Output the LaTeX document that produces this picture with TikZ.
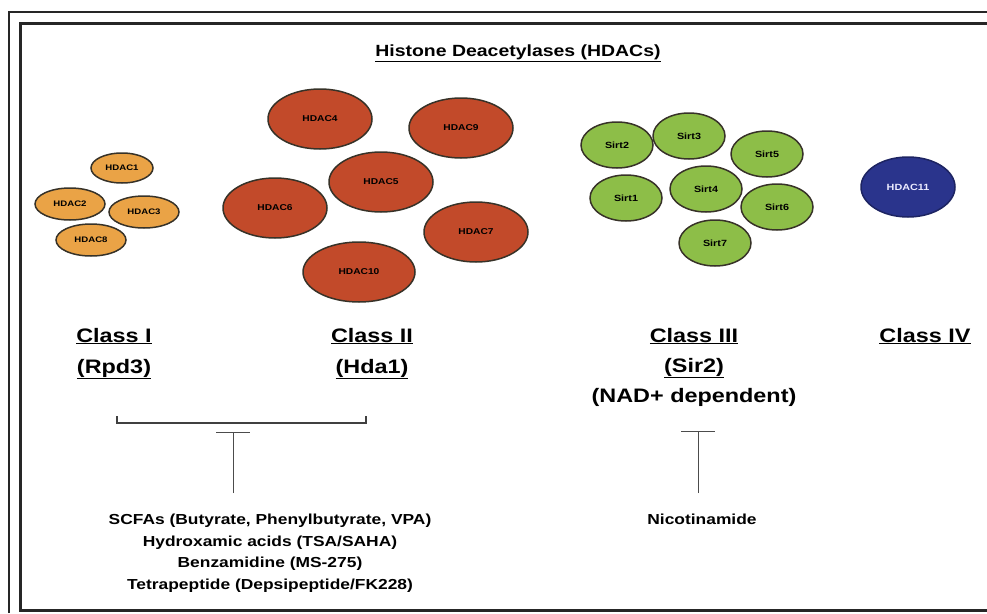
\documentclass[tikz,border=0pt]{standalone}
\usepackage{fontspec}
\setmainfont{Liberation Sans}[FakeStretch=1.2]
\usetikzlibrary{positioning,shapes.geometric,arrows.meta}

\definecolor{classIfill}{RGB}{234,163,70}
\definecolor{classIIfill}{RGB}{194,74,42}
\definecolor{classIIIfill}{RGB}{141,190,72}
\definecolor{classIVfill}{RGB}{42,52,140}
\definecolor{rimcol}{RGB}{55,50,40}

\begin{document}
\begin{tikzpicture}[x=1pt,y=-1pt,>=stealth,font=\bfseries]
\tikzset{
  hdac/.style={ellipse, draw=rimcol, line width=1.5pt, inner sep=0pt, font=\bfseries\fontsize{8}{9}\selectfont},
  smallhdac/.style={hdac, fill=classIfill, minimum width=70pt, minimum height=32pt},
  bighdac/.style={hdac, fill=classIIfill, minimum width=104pt, minimum height=60pt, font=\bfseries\fontsize{8.5}{10}\selectfont},
  sirt/.style={hdac, fill=classIIIfill, minimum width=72pt, minimum height=46pt, font=\bfseries\fontsize{9}{10}\selectfont},
  lonehdac/.style={hdac, fill=classIVfill, draw=classIVfill!70!black, minimum width=94pt, minimum height=60pt, text=white!92!blue, font=\bfseries\fontsize{9}{10}\selectfont},
  classlab/.style={font=\bfseries\fontsize{19.5}{24}\selectfont, inner sep=0pt, anchor=base},
  drug/.style={font=\bfseries\fontsize{14.5}{21.5}\selectfont, align=center, inner sep=0pt, anchor=north},
  inhibit/.style={draw=black!70, line width=1pt, -{Bar[width=34pt,line width=1pt]}}
}
\useasboundingbox (0,0) rectangle (987,613);

% frame
\draw[black!85, line width=1.2pt] (9,613) -- (9,12) -- (987,12);
\draw[black!85, line width=3pt] (987,23) -- (20,23) -- (20,610) -- (987,610);

% title
\node[font=\bfseries\fontsize{16.2}{18}\selectfont, inner sep=0pt, anchor=base] (title) at (518,56) {\underline{Histone Deacetylases (HDACs)}};

% Class I
\node[smallhdac, minimum width=62pt, minimum height=30pt] (h1) at (122,168) {HDAC1};
\node[smallhdac] (h2) at (70,204) {HDAC2};
\node[smallhdac] (h3) at (144,212) {HDAC3};
\node[smallhdac] (h8) at (91,240) {HDAC8};

% Class II
\node[bighdac] (h4) at (320,119) {HDAC4};
\node[bighdac] (h9) at (461,128) {HDAC9};
\node[bighdac] (h5) at (381,182) {HDAC5};
\node[bighdac] (h6) at (275,208) {HDAC6};
\node[bighdac] (h7) at (476,232) {HDAC7};
\node[bighdac, minimum width=112pt] (h10) at (359,272) {HDAC10};

% Class III
\node[sirt] (s2) at (617,145) {Sirt2};
\node[sirt] (s3) at (689,136) {Sirt3};
\node[sirt] (s5) at (767,154) {Sirt5};
\node[sirt] (s1) at (626,198) {Sirt1};
\node[sirt] (s4) at (706,189) {Sirt4};
\node[sirt] (s6) at (777,207) {Sirt6};
\node[sirt] (s7) at (715,243) {Sirt7};

% Class IV
\node[lonehdac] (h11) at (908,187) {HDAC11};

% class labels
\node[classlab] (cI) at (114,342) {\underline{Class I}};
\node[classlab] (cIsub) at ([yshift=-31pt]cI.base) {\underline{(Rpd3)}};
\node[classlab] (cII) at (372,342) {\underline{Class II}};
\node[classlab] (cIIsub) at ([yshift=-31pt]cII.base) {\underline{(Hda1)}};
\node[classlab] (cIII) at (694,342) {\underline{Class III}};
\node[classlab] (cIIIsub) at ([yshift=-30pt]cIII.base) {\underline{(Sir2)}};
\node[classlab] (cIIInad) at ([yshift=-30pt]cIIIsub.base) {(NAD+ dependent)};
\node[classlab] (cIV) at (925,342) {\underline{Class IV}};

% bracket over classes I and II
\coordinate (brL) at (117,416);
\coordinate (brR) at (366,416);
\draw[black!75, line width=1.2pt] (brL) -- ++(0,7) -| (brR);

% inhibitors
\coordinate (tbarA) at (233,432);
\coordinate (tbaseA) at (233,493);
\coordinate (tbarB) at (698,431);
\coordinate (tbaseB) at (698,493);
\draw[inhibit] (tbaseA) -- (tbarA);
\draw[inhibit] (tbaseB) -- (tbarB);

\node[drug] (drugsA) at (270,514) {SCFAs (Butyrate, Phenylbutyrate, VPA)\\
Hydroxamic acids (TSA/SAHA)\\
Benzamidine (MS-275)\\
Tetrapeptide (Depsipeptide/FK228)};
\node[drug] (drugsB) at (702,514) {Nicotinamide};
\end{tikzpicture}
\end{document}
